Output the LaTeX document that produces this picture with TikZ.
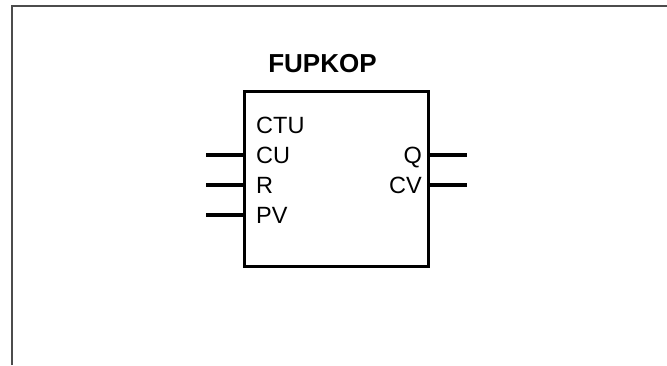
\documentclass[tikz,border=0pt]{standalone}
\usepackage{fontspec}
\setmainfont{Liberation Sans}
\usetikzlibrary{positioning}
\tikzstyle{block} = [rectangle, draw=black, line width=3.5pt, minimum width=184pt, minimum height=175pt, inner sep=0pt]
\tikzstyle{pinlabel} = [inner sep=0pt, font=\fontsize{23.5}{28}\selectfont]
\tikzstyle{title} = [inner sep=0pt, font=\fontsize{26}{31}\selectfont\bfseries]
\tikzstyle{wire} = [line width=3.5pt]
\tikzstyle{frame} = [line width=1.5pt, draw=black!70]

\begin{document}
\begin{tikzpicture}[x=1pt, y=-1pt]
    \useasboundingbox (0,0) rectangle (667,365);
    % Frame
    \draw [frame] (12,365) -- (12,6) -- (667,6);

    % Nodes
    \node (ctu) [block] at (336.5,179) {};
    \node (name) [title, above=17pt of ctu.north, xshift=-14pt] {FUPKOP};
    \node (type) [pinlabel, anchor=base west] at (256,133) {CTU};
    \node (cu) [pinlabel, anchor=base west] at (256,163.5) {CU};
    \node (r) [pinlabel, anchor=base west] at (256,193.5) {R};
    \node (pv) [pinlabel, anchor=base west] at (256,223) {PV};
    \node (q) [pinlabel, anchor=base east] at (422,163.5) {Q};
    \node (cv) [pinlabel, anchor=base east] at (422,193.5) {CV};

    % Wire ends
    \coordinate (cuin) at (206,155);
    \coordinate (rin) at (206,185);
    \coordinate (pvin) at (206,215);
    \coordinate (qout) at (467,155);
    \coordinate (cvout) at (467,185);

    % Wires
    \draw [wire] (cuin) -- (cuin -| ctu.west);
    \draw [wire] (rin) -- (rin -| ctu.west);
    \draw [wire] (pvin) -- (pvin -| ctu.west);
    \draw [wire] (ctu.east |- qout) -- (qout);
    \draw [wire] (ctu.east |- cvout) -- (cvout);
\end{tikzpicture}
\end{document}
